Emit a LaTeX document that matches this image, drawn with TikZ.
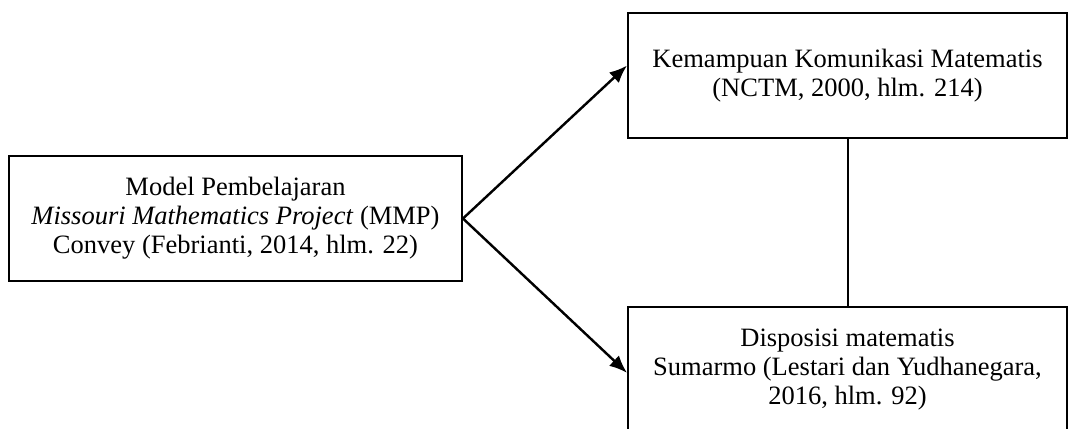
\documentclass[tikz,border=0pt]{standalone}
\usepackage{fontspec}
\setmainfont{Liberation Serif}
\usetikzlibrary{arrows.meta}
\begin{document}
\begin{tikzpicture}[x=0.4528pt,y=-0.4528pt,
  kotak/.style={draw,line width=0.9pt,align=center,minimum height=56.6pt,inner sep=0pt,font=\fontsize{12}{13.2}\selectfont},
  panah/.style={line width=1.1pt,-{Latex[length=8pt,width=6.5pt]}}]
\useasboundingbox (0,0) rectangle (1068,428);
\clip (0,0) rectangle (1068,428);
\node[kotak,minimum width=205.1pt] (mmp) at (235.5,218.5) {Model Pembelajaran\\\textit{Missouri Mathematics Project} (MMP)\\Convey (Febrianti, 2014, hlm. 22)};
\node[kotak,minimum width=198.8pt] (komunikasi) at (847.5,75.5) {Kemampuan Komunikasi Matematis\\(NCTM, 2000, hlm. 214)};
\node[kotak,minimum width=198.8pt] (disposisi) at (847.5,369.5) {Disposisi matematis\\Sumarmo (Lestari dan Yudhanegara,\\2016, hlm. 92)};
\draw[panah] (mmp.east) -- ([yshift=4.5pt]komunikasi.west);
\draw[panah] (mmp.east) -- ([yshift=-1.5pt]disposisi.west);
\draw[line width=0.9pt] (komunikasi.south) -- (disposisi.north);
\end{tikzpicture}
\end{document}
